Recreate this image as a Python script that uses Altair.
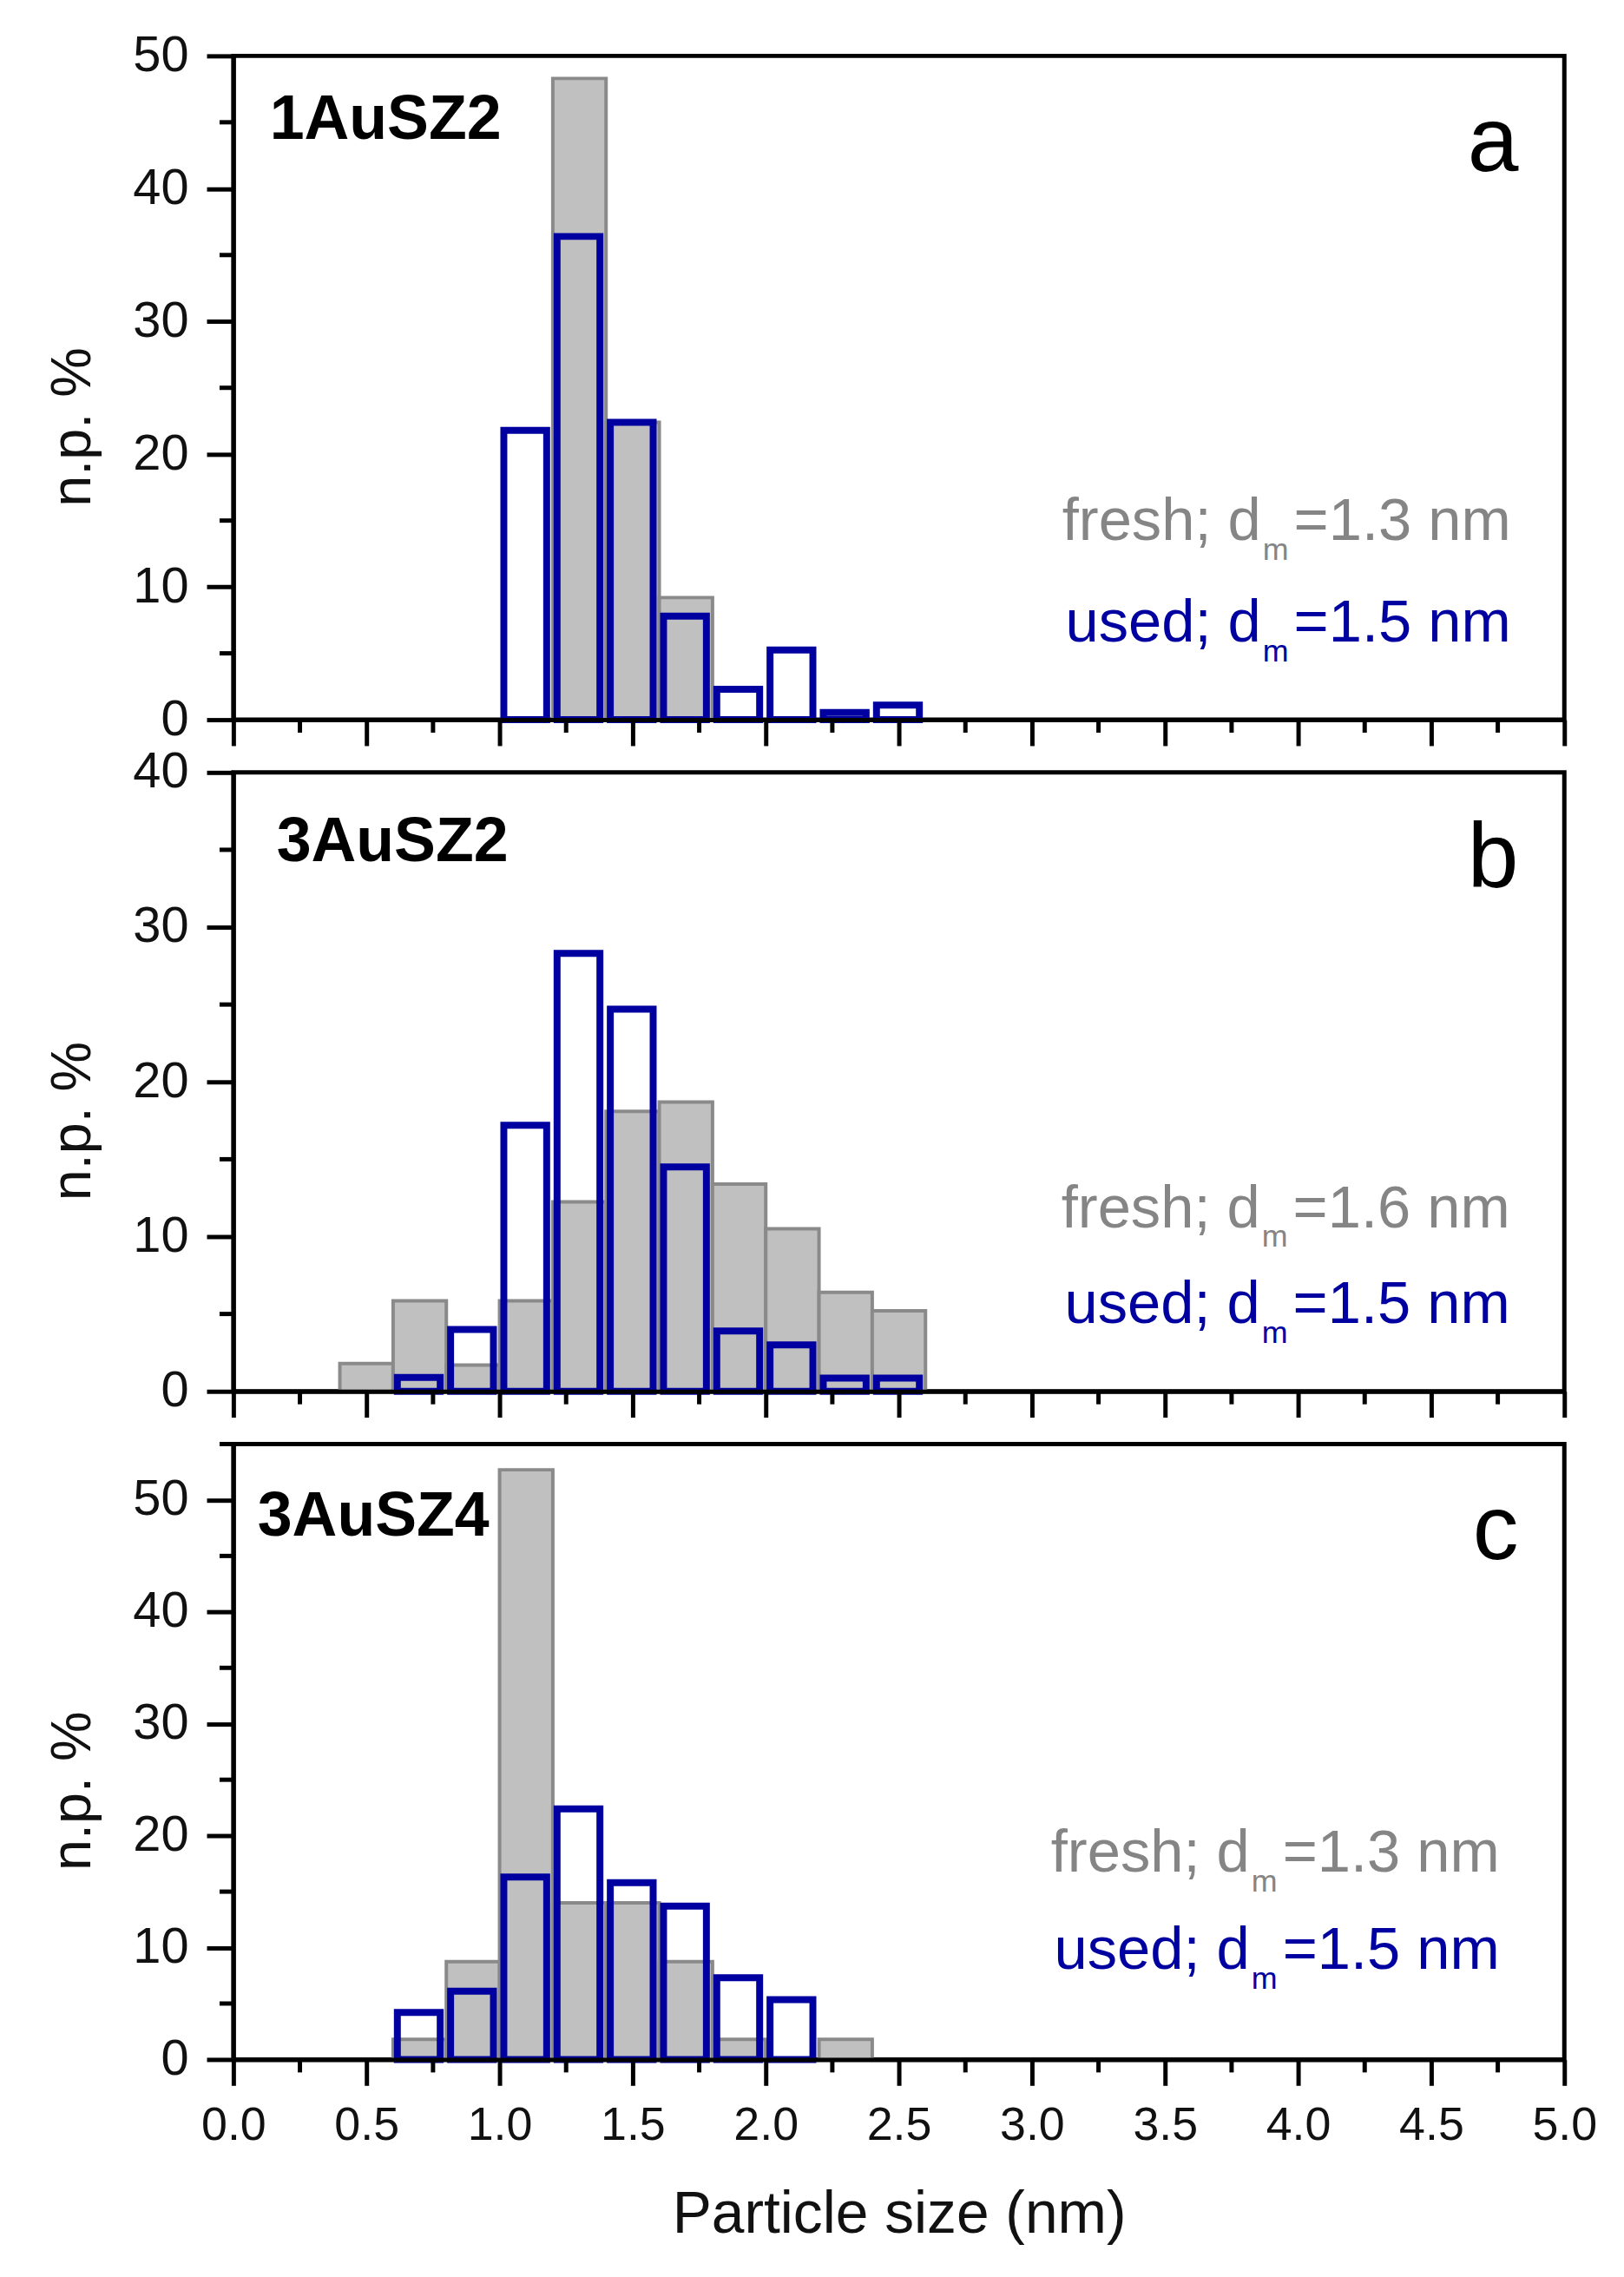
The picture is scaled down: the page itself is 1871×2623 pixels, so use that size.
import altair as alt
import pandas as pd

# ---------------- data ----------------
BIN_WIDTH = 0.2

bins_a = [1.0, 1.2, 1.4, 1.6, 1.8, 2.0, 2.2, 2.4]
fresh_a = [None, 48.3, 22.4, 9.2, None, None, None, None]
used_a = [21.8, 36.4, 22.4, 7.8, 2.3, 5.25, 0.55, 1.1]

bins_b = [0.4, 0.6, 0.8, 1.0, 1.2, 1.4, 1.6, 1.8, 2.0, 2.2, 2.4]
fresh_b = [1.8, 5.85, 1.7, 5.85, 12.25, 18.1, 18.7, 13.4, 10.5, 6.4, 5.2]
used_b = [None, 0.9, 4.0, 17.2, 28.3, 24.7, 14.5, 3.9, 3.0, 0.85, 0.85]

bins_c = [0.6, 0.8, 1.0, 1.2, 1.4, 1.6, 1.8, 2.0, 2.2]
fresh_c = [1.8, 8.75, 52.7, 14.0, 14.0, 8.75, 1.8, None, 1.8]
used_c = [4.2, 6.1, 16.3, 22.4, 15.8, 13.7, 7.3, 5.35, None]

samples = ["1AuSZ2", "3AuSZ2", "3AuSZ4"]
letters = ["a", "b", "c"]
fresh_dm = ["1.3", "1.6", "1.3"]
used_dm = ["1.5", "1.5", "1.5"]
y_max = [50, 40, 55]

x_major = [0.0, 0.5, 1.0, 1.5, 2.0, 2.5, 3.0, 3.5, 4.0, 4.5, 5.0]
x_minor = [0.25, 0.75, 1.25, 1.75, 2.25, 2.75, 3.25, 3.75, 4.25, 4.75]

# ---------------- style ----------------
FONT = "Liberation Sans"
GRAY_FILL = "#c0c0c0"
GRAY_EDGE = "#8a8a8a"
BLUE = "#0000a0"
TXT_GRAY = "#858585"
W = 1540
heights = [768, 716, 712]
# text placement (pixels relative to each plot area)
sample_pos = [(42, 96), (50, 103), (28, 106)]
letter_pos = [(1487, 133), (1487, 133), (1487, 133)]
legend_eq_x = [1227, 1226, 1214]
legend_y = [(560, 678), (526, 637), (495, 607)]
title_shift = 45


def panel(i, bins, fresh, used, last):
    H = heights[i]
    ymax = y_max[i]
    xs = alt.Scale(domain=[0, 5], nice=False, zero=False)
    ys = alt.Scale(domain=[0, ymax], nice=False)

    df_f = pd.DataFrame({"x": bins, "v": fresh}).dropna()
    df_f["x2"] = df_f["x"] + BIN_WIDTH
    df_u = pd.DataFrame({"x": bins, "v": used}).dropna()
    df_u["xa"] = df_u["x"] + 0.016
    df_u["xb"] = df_u["x"] + 0.177

    x_axis = alt.Axis(
        values=x_major, format=".1f", labels=last,
        title="Particle size (nm)" if last else "",
        tickSize=30, tickWidth=5, tickColor="black",
        labelFontSize=54, labelPadding=19, labelFont=FONT, labelColor="#111",
        labelFlush=False, labelOverlap=False,
        titleFontSize=68, titleFont=FONT, titleFontWeight="normal",
        titlePadding=43, titleColor="#111",
        domain=True, domainWidth=5, domainColor="black", grid=False, zindex=1,
    )
    y_axis = alt.Axis(
        values=list(range(0, ymax + 1, 10)), title="n.p. %",
        tickSize=31, tickWidth=5, tickColor="black",
        labelFontSize=58, labelPadding=21, labelFont=FONT, labelColor="#111",
        labelOverlap=False,
        titleFontSize=65, titleFont=FONT, titleFontWeight="normal",
        titlePadding=36, titleColor="#111", titleY=H / 2 + title_shift,
        domain=True, domainWidth=5, domainColor="black", grid=False, zindex=1,
    )

    gray = alt.Chart(df_f).mark_rect(
        fill=GRAY_FILL, stroke=GRAY_EDGE, strokeWidth=4
    ).encode(
        x=alt.X("x:Q", scale=xs, axis=x_axis),
        x2="x2:Q",
        y=alt.Y("v:Q", scale=ys, axis=y_axis),
        y2=alt.datum(0),
    )
    blue = alt.Chart(df_u).mark_rect(
        fillOpacity=0, stroke=BLUE, strokeWidth=8
    ).encode(
        x=alt.X("xa:Q", scale=xs, axis=x_axis),
        x2="xb:Q",
        y=alt.Y("v:Q", scale=ys, axis=y_axis),
        y2=alt.datum(0),
    )
    xminor = alt.Chart(pd.DataFrame({"t": x_minor})).mark_rule(
        color="black", strokeWidth=5
    ).encode(
        x=alt.X("t:Q", scale=xs, axis=x_axis),
        y=alt.value(H), y2=alt.value(H + 15),
    )
    ymin_vals = [v + 5 for v in range(0, ymax, 10) if v + 5 <= ymax]
    yminor = alt.Chart(pd.DataFrame({"t": ymin_vals})).mark_rule(
        color="black", strokeWidth=5
    ).encode(
        y=alt.Y("t:Q", scale=ys, axis=y_axis),
        x=alt.value(-16), x2=alt.value(0),
    )

    sx, sy = sample_pos[i]
    sample_t = alt.Chart(pd.DataFrame({"s": [samples[i]]})).mark_text(
        font=FONT, fontSize=72, fontWeight="bold", color="black",
        align="left", baseline="alphabetic"
    ).encode(text="s:N", x=alt.value(sx), y=alt.value(sy))

    lx, ly = letter_pos[i]
    letter_t = alt.Chart(pd.DataFrame({"s": [letters[i]]})).mark_text(
        font=FONT, fontSize=106, color="black",
        align="right", baseline="alphabetic"
    ).encode(text="s:N", x=alt.value(lx), y=alt.value(ly))

    ex = legend_eq_x[i]
    fy, uy = legend_y[i]
    layers = [gray, blue, xminor, yminor, sample_t, letter_t]
    for label, dm, yy, col in (("fresh", fresh_dm[i], fy, TXT_GRAY),
                              ("used", used_dm[i], uy, BLUE)):
        pre = alt.Chart(pd.DataFrame({"s": [label + "; d"]})).mark_text(
            font=FONT, fontSize=69, color=col, align="right", baseline="alphabetic"
        ).encode(text="s:N", x=alt.value(ex - 38), y=alt.value(yy))
        sub = alt.Chart(pd.DataFrame({"s": ["m"]})).mark_text(
            font=FONT, fontSize=36, color=col, align="left", baseline="alphabetic"
        ).encode(text="s:N", x=alt.value(ex - 36), y=alt.value(yy + 23))
        post = alt.Chart(pd.DataFrame({"s": ["=" + dm + " nm"]})).mark_text(
            font=FONT, fontSize=69, color=col, align="left", baseline="alphabetic"
        ).encode(text="s:N", x=alt.value(ex), y=alt.value(yy))
        layers += [pre, sub, post]

    return alt.layer(*layers).properties(width=W, height=H)


pa = panel(0, bins_a, fresh_a, used_a, False)
pb = panel(1, bins_b, fresh_b, used_b, False)
pc = panel(2, bins_c, fresh_c, used_c, True)

chart = alt.vconcat(pa, pb, pc, spacing=61, bounds="flush").properties(
    padding={"left": 40, "top": 19, "right": 20, "bottom": 20},
    background="white",
).configure_view(stroke="black", strokeWidth=5)

chart.save("out.html", embed_options={"renderer": "svg", "actions": False})
